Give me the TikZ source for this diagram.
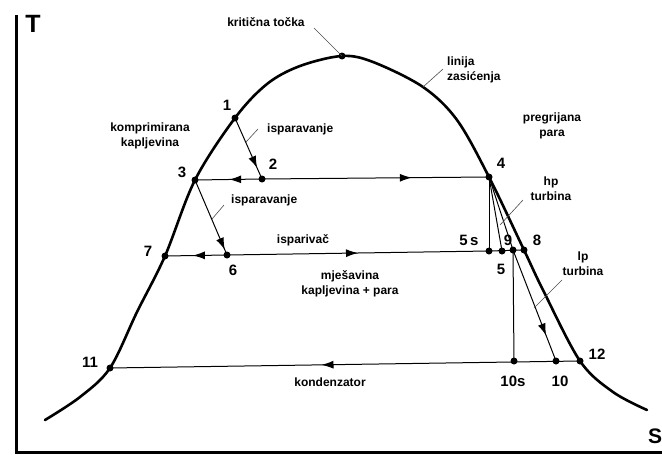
\documentclass[tikz,border=0pt]{standalone}
\usepackage{fontspec}
\setmainfont{Liberation Sans}
\usepackage{tikz}
\usetikzlibrary{arrows.meta,calc,decorations.markings}

\tikzset{
    midarrow/.style={postaction={decorate},
        decoration={markings, mark=at position #1 with {\arrow{Latex[length=12pt,width=8pt]}}}},
}

\begin{document}
\begin{tikzpicture}[x=1pt, y=-1pt,
    tanka/.style={line width=1pt},
    debela/.style={line width=2.6pt, line cap=round, line join=round},
    opis/.style={font=\fontsize{12}{15}\selectfont\bfseries, align=center, inner sep=0pt},
    broj/.style={font=\fontsize{15}{15}\selectfont\bfseries, inner sep=0pt},
    vodilica/.style={line width=0.6pt, black!70}]
    \useasboundingbox (0,0) rectangle (662,455);

    % Osi
    \draw[line width=3pt] (16,15) -- (16,452) -- (662,452);
    \node[font=\fontsize{25}{25}\selectfont\bfseries] (osT) at (33,24) {T};
    \node[font=\fontsize{21}{21}\selectfont\bfseries] (osS) at (655,436) {S};

    % Tocke na liniji zasicenja
    \foreach \ime/\x/\y in {11/110/368, 7/165/256, 3/195/180, 1/235/118, kr/342/56,
                            4/489/177, 8/524/250, 12/580/361}
        \coordinate (p\ime) at (\x,\y);
    % Tocke ciklusa
    \foreach \ime/\x/\y in {2/262/179, 6/227/255, 5s/489/251, 5/502/251, 9/513/250,
                            10s/514/361, 10/556/361}
        \coordinate (p\ime) at (\x,\y);

    % Linija zasicenja
    \draw[debela] plot[smooth, tension=0.55] coordinates {(45,420) (80,397) (p11) (137,312)
        (p7) (p3) (p1) (267,84) (300,66) (pkr) (373,62) (423,87) (457,120) (p4) (p8)
        (543,290) (p12) (613,392) (647,410)};

    % Ciklus
    \draw[tanka, midarrow=0.82] (p1) -- (p2);
    \draw[tanka, midarrow=0.49] (p2) -- (p3);
    \draw[tanka, midarrow=0.66] (p2) -- (p4);
    \draw[tanka, midarrow=0.93] (p3) -- (p6);
    \draw[tanka, midarrow=0.55] (p6) -- (p7);
    \draw[tanka, midarrow=0.5] (p6) -- (p5s);
    \draw[tanka] (p5s) -- (p8);
    \draw[tanka] (p4) -- (p5s);
    \draw[tanka] (p4) -- (p5);
    \draw[tanka] (p4) -- (p9);
    \draw[tanka] (p9) -- (p10s);
    \draw[tanka, midarrow=0.77] (p9) -- (p10);
    \draw[tanka, midarrow=0.55] (p12) -- (p11);

    \foreach \ime in {11,7,3,1,kr,4,8,12,2,6,5s,5,9,10s,10}
        \fill (p\ime) circle (3.5pt);

    % Brojevi
    \foreach \ime/\tekst/\x/\y in {1/1/227/105, 2/2/273/164, 3/3/182/172, 4/4/501/163,
            5s/5\,s/469/240, 9/9/508/240, 8/8/537/240, 5/5/501/269, 7/7/148/251,
            6/6/233/270, 11/11/90/362, 12/12/597/354, 10s/10s/513/381, 10/10/560/381}
        \node[broj] (b\ime) at (\x,\y) {\tekst};

    % Opisi
    \node[opis] (kriticna) at (266,22) {kritična točka};
    \node[opis, anchor=west, align=left] (zasicenje) at (447,70) {linija\\zasićenja};
    \node[opis] (pregrijana) at (552,126) {pregrijana\\para};
    \node[opis] (hp) at (551,189) {hp\\turbina};
    \node[opis] (komprimirana) at (150,136) {komprimirana\\kapljevina};
    \node[opis, anchor=west] (isp1) at (267,129) {isparavanje};
    \node[opis, anchor=west] (isp2) at (231,200) {isparavanje};
    \node[opis] (isparivac) at (303,240) {isparivač};
    \node[opis] (mjesavina) at (350,284) {mješavina\\kapljevina + para};
    \node[opis] (kondenzator) at (330,382) {kondenzator};
    \node[opis] (lp) at (583,264) {lp\\turbina};

    % Vodilice
    \coordinate (vkr) at (314,28);
    \draw[vodilica] (vkr) -- (pkr);
    \foreach \ime/\x/\y/\u/\v in {zas/423/87/443/69, isa/246/142/258/129, isb/212/219/224/205,
                                  hpt/500/225/523/200, lpt/534/308/562/280} {
        \coordinate (\ime-a) at (\x,\y);
        \coordinate (\ime-b) at (\u,\v);
        \draw[vodilica] (\ime-a) -- (\ime-b);
    }
\end{tikzpicture}
\end{document}
